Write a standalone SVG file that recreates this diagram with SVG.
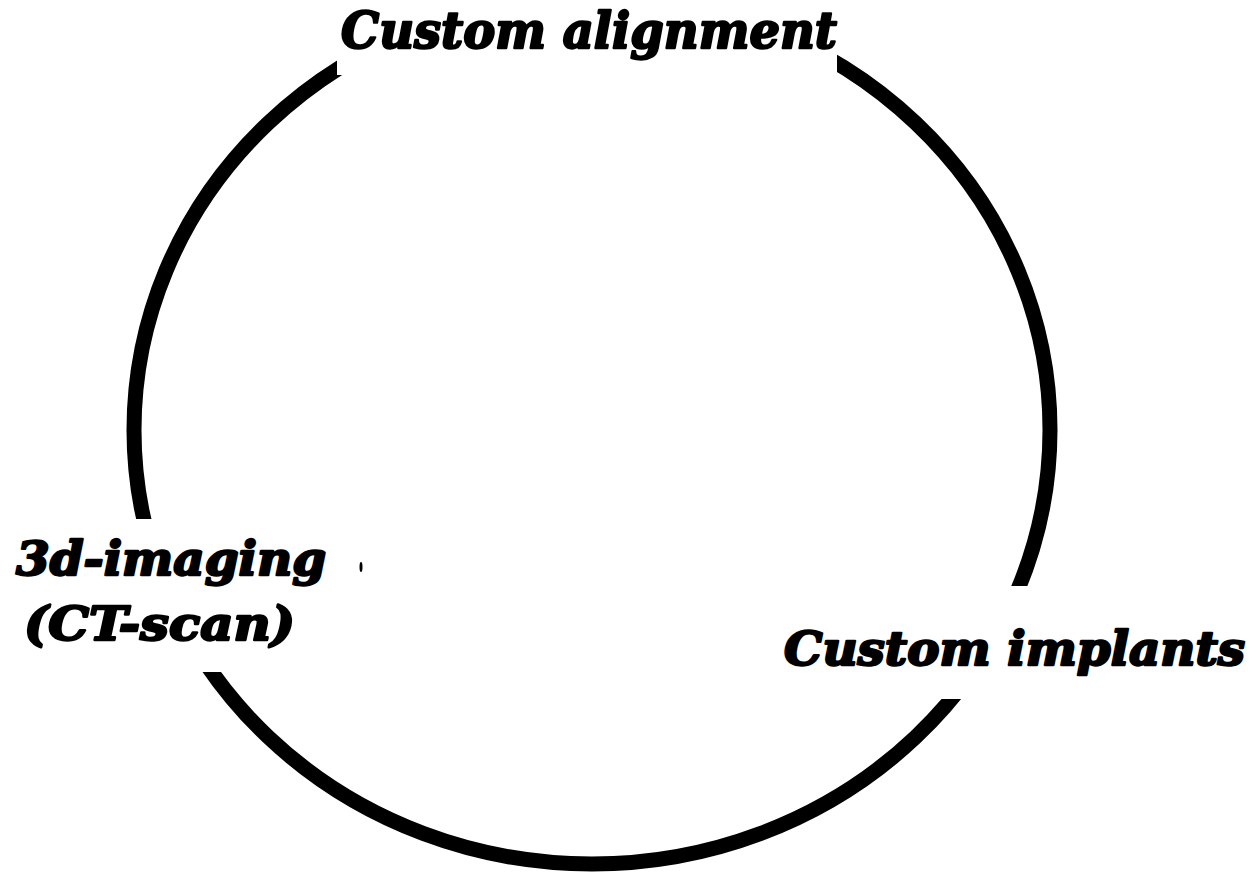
<svg xmlns="http://www.w3.org/2000/svg" width="1260" height="872" viewBox="0 0 1260 872">
  <style>
    .ring { fill: none; stroke: #000; stroke-width: 15; }
    .mask { fill: #fff; }
    .label { font-family: "DejaVu Serif", "Liberation Serif", serif; font-weight: bold; font-style: italic; fill: #000; stroke: #000; stroke-width: 2.4; stroke-linejoin: round; }
  </style>
  <rect width="1260" height="872" fill="#fff"/>
  <g id="connectors">
    <ellipse class="ring" cx="592" cy="430" rx="458" ry="434"/>
  </g>
  <g id="node-alignment">
    <rect class="mask" x="337" y="0" width="500" height="75"/>
    <text class="label" x="341" y="48" font-size="51" textLength="496" lengthAdjust="spacingAndGlyphs">Custom alignment</text>
  </g>
  <g id="node-imaging">
    <rect class="mask" x="0" y="519" width="355" height="153"/>
    <text class="label" x="16" y="575" font-size="47" textLength="310" lengthAdjust="spacingAndGlyphs">3d-imaging</text>
    <text class="label" x="24" y="640" font-size="46" textLength="271" lengthAdjust="spacingAndGlyphs">(CT-scan)</text>
    <ellipse cx="361" cy="567" rx="1.5" ry="5" fill="#000"/>
  </g>
  <g id="node-implants">
    <rect class="mask" x="775" y="586" width="485" height="113"/>
    <text class="label" x="784" y="665" font-size="47" textLength="461" lengthAdjust="spacingAndGlyphs">Custom implants</text>
  </g>
</svg>
